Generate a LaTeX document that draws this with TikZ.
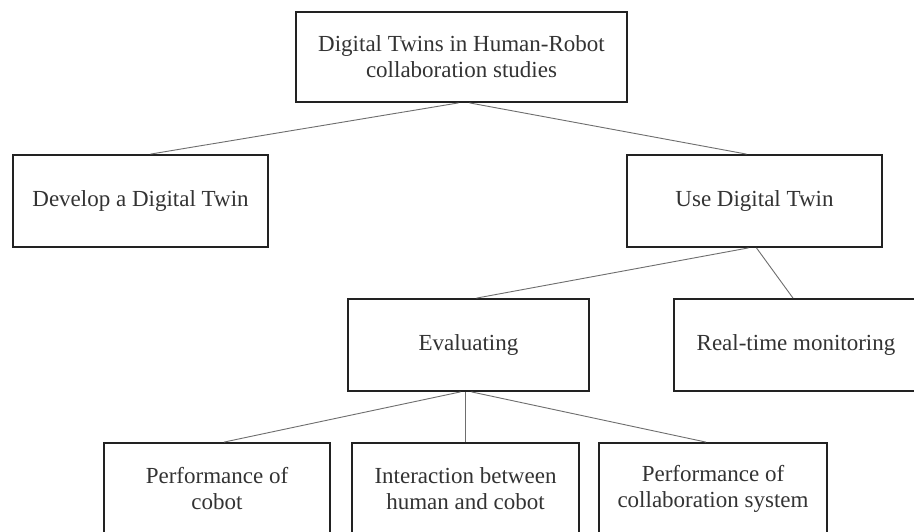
\documentclass[tikz,border=0pt]{standalone}
\usepackage{fontspec}
\setmainfont{Liberation Serif}
\definecolor{boxline}{HTML}{222222}
\definecolor{linkline}{HTML}{6E6E6E}
\definecolor{labeltext}{HTML}{333333}
\begin{document}
\begin{tikzpicture}[x=1pt,y=-1pt,
		topicbox/.style={draw=boxline,line width=1.8pt,fill=white,anchor=center,
			align=center,text=labeltext,inner sep=0pt,
			font=\fontsize{23}{26}\selectfont},
		link/.style={draw=linkline,line width=0.9pt}]
				\clip (0,0) rectangle (914,532);
				\fill[white] (0,0) rectangle (914,532);
				\node[topicbox,minimum width=331pt,minimum height=90pt] (dtstudies) at (461.5,57)
					{Digital Twins in Human-Robot\\collaboration studies};
				\node[topicbox,minimum width=255pt,minimum height=92pt] (develop) at (140.5,201)
					{Develop a Digital Twin};
				\node[topicbox,minimum width=255pt,minimum height=92pt] (usetwin) at (754.5,201)
					{Use Digital Twin};
				\node[topicbox,minimum width=241pt,minimum height=92pt] (evaluating) at (468.5,345)
					{Evaluating};
				\node[topicbox,minimum width=244pt,minimum height=92pt] (monitoring) at (796,345)
					{Real-time monitoring};
				\node[topicbox,minimum width=226pt,minimum height=92pt] (perfcobot) at (217,489)
					{Performance of\\cobot};
				\node[topicbox,minimum width=227pt,minimum height=92pt] (interaction) at (465.5,489)
					{Interaction between\\human and cobot};
				\node[topicbox,minimum width=228pt,minimum height=92pt] (perfsystem) at (713,489)
					{Performance of\\collaboration system};
				\draw[link] ([xshift=-3pt]dtstudies.south) -- ([xshift=10pt]develop.north);
				\draw[link] ([xshift=8pt]dtstudies.south) -- ([xshift=-8pt]usetwin.north);
				\draw[link] ([xshift=-6pt]usetwin.south) -- ([xshift=8pt]evaluating.north);
				\draw[link] ([xshift=2pt]usetwin.south) -- ([xshift=-3pt]monitoring.north);
				\draw[link] ([xshift=-8pt]evaluating.south) -- ([xshift=7pt]perfcobot.north);
				\draw[link] ([xshift=-3pt]evaluating.south) -- (interaction.north);
				\draw[link] ([xshift=3pt]evaluating.south) -- ([xshift=-7pt]perfsystem.north);
			\end{tikzpicture}
\end{document}
